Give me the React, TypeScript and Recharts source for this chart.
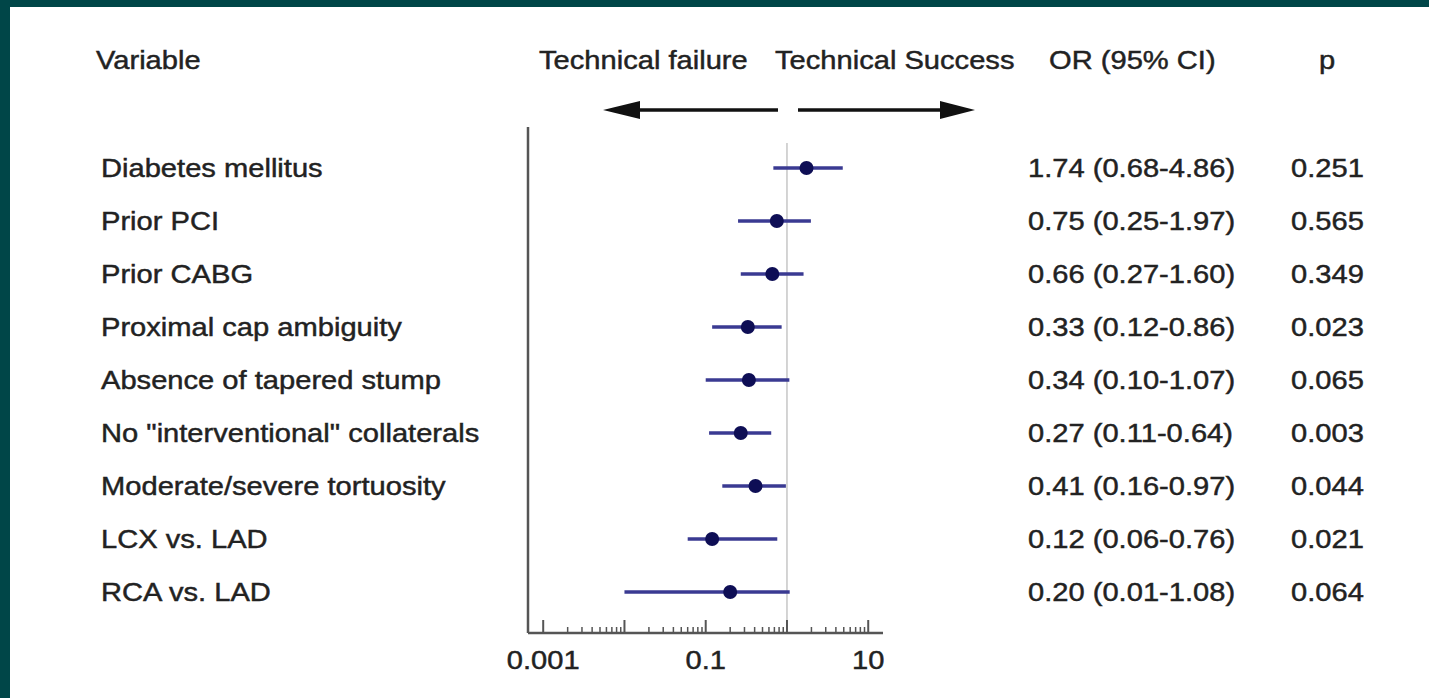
import React from 'react';
import { ScatterChart, Scatter, XAxis, YAxis, ErrorBar, ReferenceLine } from 'recharts';

// Forest plot: predictors of technical success (odds ratios, log scale)
const variables = [
  'Diabetes mellitus',
  'Prior PCI',
  'Prior CABG',
  'Proximal cap ambiguity',
  'Absence of tapered stump',
  'No "interventional" collaterals',
  'Moderate/severe tortuosity',
  'LCX vs. LAD',
  'RCA vs. LAD',
];
const oddsRatios = [1.74, 0.75, 0.66, 0.33, 0.34, 0.27, 0.41, 0.12, 0.2];
const ciLower = [0.68, 0.25, 0.27, 0.12, 0.1, 0.11, 0.16, 0.06, 0.01];
const ciUpper = [4.86, 1.97, 1.6, 0.86, 1.07, 0.64, 0.97, 0.76, 1.08];
const pValues = ['0.251', '0.565', '0.349', '0.023', '0.065', '0.003', '0.044', '0.021', '0.064'];

const majorTicks = [0.001, 0.01, 0.1, 1, 10];
const labeledTicks = ['0.001', '0.1', '10'];
const minorMultipliers = [2, 3, 4, 5, 6, 7, 8, 9];

const rows = variables.map((name, i) => ({
  row: i,
  name,
  or: oddsRatios[i],
  err: [oddsRatios[i] - ciLower[i], ciUpper[i] - oddsRatios[i]],
  orText: `${oddsRatios[i].toFixed(2)} (${ciLower[i].toFixed(2)}-${ciUpper[i].toFixed(2)})`,
  p: pValues[i],
}));

const axisTicks: number[] = [];
majorTicks.forEach((m, i) => {
  axisTicks.push(m);
  if (i < majorTicks.length - 1) {
    minorMultipliers.forEach((k) => axisTicks.push(Number((m * k).toPrecision(6))));
  }
});

const FONT = '"Liberation Sans", Arial, Helvetica, sans-serif';
const TEXT_COLOR = '#222222';
const AXIS_COLOR = '#555555';

const ScaledText = ({ x, y, anchor = 'start', children }: any) => (
  <text
    transform={`translate(${x},${y}) scale(1.12,1)`}
    x={0}
    y={0}
    textAnchor={anchor}
    fontFamily={FONT}
    fontSize={26}
    fill={TEXT_COLOR}
    stroke={TEXT_COLOR}
    strokeWidth={0.45}
  >
    {children}
  </text>
);

const RowTick = (props: any) => {
  const { y, payload } = props;
  const r = rows[payload.value];
  if (!r) return null;
  return (
    <g>
      <ScaledText x={101} y={y + 9}>{r.name}</ScaledText>
      <ScaledText x={1028} y={y + 9}>{r.orText}</ScaledText>
      <ScaledText x={1291} y={y + 9}>{r.p}</ScaledText>
    </g>
  );
};

const LogTick = (props: any) => {
  const { x, y, payload } = props;
  const v = payload.value;
  const isMajor = majorTicks.some((m) => Math.abs(m - v) / m < 1e-6);
  const label = labeledTicks.find((t) => Math.abs(Number(t) - v) / v < 1e-6);
  return (
    <g>
      <line
        x1={x}
        x2={x}
        y1={y}
        y2={y - (isMajor ? 13 : 6)}
        stroke={AXIS_COLOR}
        strokeWidth={isMajor ? 2 : 1.5}
      />
      {label && (
        <ScaledText x={x} y={y + 36} anchor="middle">
          {label}
        </ScaledText>
      )}
    </g>
  );
};

const Dot = (props: any) => {
  const { cx, cy } = props;
  return <circle cx={cx} cy={cy} r={7} fill="#0e0e55" />;
};

export default function App() {
  return (
    <div style={{ position: 'absolute', left: 0, top: 0, width: 1429, height: 698, background: '#004648', overflow: 'hidden' }}>
      <div style={{ position: 'absolute', left: 10, top: 7, right: 0, bottom: 0, background: '#ffffff' }} />
      <div style={{ position: 'absolute', left: 0, top: 0 }}>
        <ScatterChart width={1429} height={698} margin={{ top: 127, right: 546, bottom: 0, left: 102 }}>
          <XAxis
            type="number"
            dataKey="or"
            scale="log"
            domain={[0.00065, 15.2]}
            allowDataOverflow
            ticks={axisTicks}
            interval={0}
            height={65}
            tickSize={0}
            tickMargin={0}
            tickLine={false}
            tick={<LogTick />}
            axisLine={{ stroke: AXIS_COLOR, strokeWidth: 2.5 }}
          />
          <YAxis
            type="number"
            dataKey="row"
            domain={[-0.7736, 8.7736]}
            allowDataOverflow
            reversed
            ticks={[0, 1, 2, 3, 4, 5, 6, 7, 8]}
            interval={0}
            width={426}
            tickSize={0}
            tickMargin={0}
            tickLine={false}
            tick={<RowTick />}
            axisLine={{ stroke: AXIS_COLOR, strokeWidth: 2.5 }}
          />
          <ReferenceLine
            segment={[{ x: 1, y: -0.47 }, { x: 1, y: 8.7736 }]}
            stroke="#c6c6c6"
            strokeWidth={1.5}
          />
          <Scatter data={rows} shape={<Dot />} isAnimationActive={false}>
            <ErrorBar dataKey="err" direction="x" width={0} stroke="#3a3a92" strokeWidth={3.5} />
          </Scatter>
        </ScatterChart>
      </div>
      <svg
        width={1429}
        height={698}
        style={{ position: 'absolute', left: 0, top: 0, pointerEvents: 'none' }}
      >
        <ScaledText x={96} y={69}>Variable</ScaledText>
        <ScaledText x={539} y={69}>Technical failure</ScaledText>
        <ScaledText x={775} y={69}>Technical Success</ScaledText>
        <ScaledText x={1049} y={69}>OR (95% CI)</ScaledText>
        <ScaledText x={1327} y={69} anchor="middle">p</ScaledText>
        {/* direction arrows */}
        <line x1={636} y1={110} x2={778} y2={110} stroke="#111" strokeWidth={3.5} />
        <polygon points="603,110 640,101 640,119" fill="#111" />
        <line x1={798} y1={110} x2={944} y2={110} stroke="#111" strokeWidth={3.5} />
        <polygon points="975,110 940,101 940,119" fill="#111" />
      </svg>
    </div>
  );
}
